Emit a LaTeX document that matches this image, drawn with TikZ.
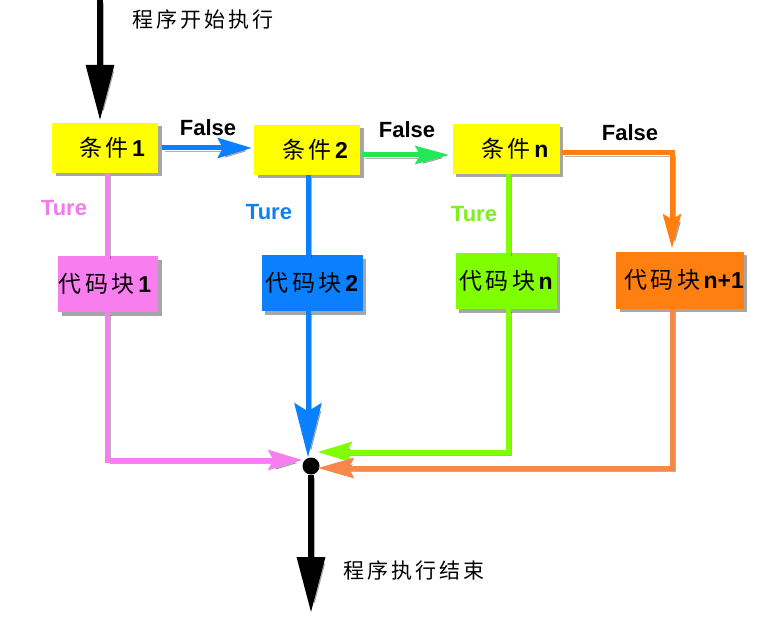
\documentclass[tikz,border=0pt]{standalone}
\usepackage{fontspec}
\setmainfont{Liberation Sans}
\newfontfamily\cjk[LetterSpace=15]{Noto Sans CJK SC}
\usetikzlibrary{arrows.meta,shadows}
\definecolor{cyel}{HTML}{FFFF00}
\definecolor{cpink}{HTML}{F87EF0}
\definecolor{cblue}{HTML}{0A80FF}
\definecolor{cgreen}{HTML}{80FF00}
\definecolor{cgreenb}{HTML}{22E855}
\definecolor{corange}{HTML}{FF8010}
\definecolor{corangel}{HTML}{F5884A}
\definecolor{tpink}{HTML}{F07CE8}
\definecolor{tblue}{HTML}{1080F0}
\definecolor{tgreen}{HTML}{80EE20}
\begin{document}
\begin{tikzpicture}[x=1pt,y=-1pt,
  box/.style={draw=none,inner sep=0pt,font=\fontsize{23}{27}\selectfont,
    drop shadow={shadow xshift=3.5pt,shadow yshift=-3.5pt,opacity=0.35,fill=black}},
  cond/.style={box,fill=cyel,minimum width=106pt,minimum height=50pt},
  blk/.style={box,minimum width=101pt,minimum height=56pt},
  lbl/.style={font=\fontsize{22}{26}\selectfont\bfseries,inner sep=0pt},
  zhl/.style={font=\fontsize{21}{25}\selectfont,inner sep=0pt},
  cl/.style={line width=5pt,
    preaction={draw=black,opacity=0.3,transform canvas={shift={(3pt,-3pt)}}}},
  bl/.style={line width=6.5pt,
    preaction={draw=black,opacity=0.3,transform canvas={shift={(3.5pt,-3.5pt)}}}},
  bigtip/.style={-{Triangle[length=56pt,width=27pt]}},
  smtip/.style={-{Stealth[length=34pt,width=20pt,inset=5pt]}},
]
\fill[white] (0,0) rectangle (775,620);
\useasboundingbox (0,0) rectangle (775,620);

% boxes
\node[cond] (c1) at (105,148) {\hspace*{14pt}{\cjk 条件}\textbf{1}};
\node[cond] (c2) at (307,150) {\hspace*{16pt}{\cjk 条件}\textbf{2}};
\node[cond,minimum width=107pt] (cn) at (506,149) {\hspace*{18pt}{\cjk 条件}\textbf{n}};
\node[blk,fill=cpink,minimum width=100pt] (b1) at (108,284) {\hspace*{-6pt}{\cjk 代码块}\textbf{1}};
\node[blk,fill=cblue] (b2) at (312,283) {{\cjk 代码块}\textbf{2}};
\node[blk,fill=cgreen] (bn) at (506,281) {{\cjk 代码块}\textbf{n}};
\node[blk,fill=corange,minimum width=127pt,minimum height=57pt] (bn1) at (680,280) {\hspace*{8pt}{\cjk 代码块}\textbf{n+1}};

% junction
\node[circle,fill=black,minimum size=17pt,inner sep=0pt] (j) at (311,466) {};

% coordinates
\coordinate (s0) at (100,0);
\coordinate (p1) at (107,460);
\coordinate (p2) at (308,0);
\coordinate (p3) at (508,452);
\coordinate (p4) at (672,468);
\coordinate (e0) at (311,613);

% start arrow
\draw[bl,bigtip,shorten >=2pt] (s0) -- (s0 |- c1.north);

% False arrows
\draw[cl,cblue,smtip,shorten <=4pt,shorten >=2pt] (c1.east) -- (c1.east -| c2.west);
\draw[cl,cgreenb,-{Stealth[length=34pt,width=18pt,inset=5pt]},shorten <=2pt,shorten >=3pt]
  ([yshift=-5pt]c2.east) -- ([yshift=-5pt]c2.east -| cn.west);
\draw[cl,corange,-{Stealth[length=34pt,width=18pt,inset=5pt]},shorten <=2pt,shorten >=3pt]
  ([yshift=-4pt]cn.east) -| (bn1.north -| p4);

% True branches
\draw[cl,cpink] (c1.south -| p1) -- (b1.north -| p1);
\draw[cl,cpink,smtip] (b1.south -| p1) -- (p1) -- (j.west |- p1);
\draw[cl,cblue] (c2.south -| p2) -- (b2.north -| p2);
\draw[cl,cblue,-{Stealth[length=54pt,width=27pt,inset=8pt]}] (b2.south -| p2) -- (p2 |- j.north);
\draw[cl,cgreen] (cn.south -| p3) -- (bn.north -| p3);
\draw[cl,cgreen,smtip,shorten >=-2pt] (bn.south -| p3) -- (p3) -- (j.east |- p3);
\draw[cl,corangel,-{Stealth[length=36pt,width=20pt,inset=5pt]},shorten >=-2pt] (bn1.south -| p4) -- (p4) -- (j.east |- p4);

% end arrow
\draw[bl,bigtip] (j.south) -- (e0);

% labels
\node[zhl] (lstart) at (203,20) {\cjk 程序开始执行};
\node[zhl] (lend) at (414,570) {\cjk 程序执行结束};
\node[lbl] (f1) at (208,128) {False};
\node[lbl] (f2) at (407,130) {False};
\node[lbl] (f3) at (630,133) {False};
\node[lbl,text=tpink] (t1) at (64,208) {Ture};
\node[lbl,text=tblue] (t2) at (269,212) {Ture};
\node[lbl,text=tgreen] (t3) at (474,214) {Ture};
\end{tikzpicture}
\end{document}
